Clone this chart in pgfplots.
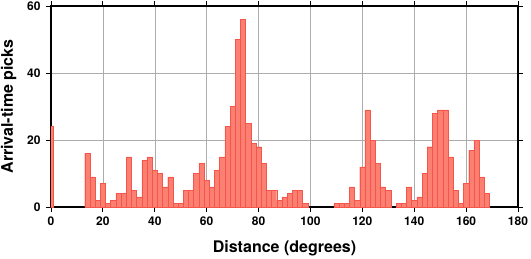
\documentclass[border=0pt]{standalone}
\usepackage{pgfplots}
\pgfplotsset{compat=1.18}
\usepackage{fontspec}
\setmainfont{TeX Gyre Heros}
\definecolor{barfill}{RGB}{252,128,114}
\definecolor{baredge}{RGB}{245,85,75}
\begin{document}
\begin{tikzpicture}
\begin{axis}[
  name=main,
  at={(0pt,0pt)}, anchor=origin,
  scale only axis,
  width=467pt, height=201pt,
  xmin=0, xmax=180, ymin=0, ymax=60,
  xtick={0,20,...,180}, ytick={0,20,40,60},
  tick pos=both, tick align=outside,
  major tick length=5pt,
  tick style={black, line width=0.8pt},
  axis line style={black, line width=1.6pt},
  grid=major,
  major grid style={gray!65, line width=0.5pt},
  /pgf/number format/assume math mode=true,
  ticklabel style={font=\fontsize{12}{14}\selectfont\bfseries},
  xticklabel style={yshift=-1pt},
  yticklabel style={xshift=-2pt},
  xlabel={Distance (degrees)},
  ylabel={Arrival-time picks},
  every axis x label/.style={at={(axis description cs:0.5,0)}, anchor=base, yshift=-45pt,
     font=\fontsize{16}{18}\selectfont\bfseries},
  every axis y label/.style={at={(axis description cs:-0.0814,0.5)}, rotate=90, anchor=base,
     font=\fontsize{16}{18}\selectfont\bfseries},
]
\addplot[ybar, bar width=2, fill=barfill, draw=baredge, line width=0.4pt] coordinates {
(0,24) (14,16) (16,9) (18,2) (20,7) (22,1) (24,2) (26,4) (28,4) (30,15)
(32,5) (34,3) (36,14) (38,15) (40,11) (42,10) (44,6) (46,9) (48,1) (50,1)
(52,5) (54,5) (56,10) (58,13) (60,8) (62,6) (64,11) (66,15) (68,24) (70,30)
(72,50) (74,56) (76,25) (78,19) (80,18) (82,13) (84,5) (86,5) (88,2) (90,3)
(92,4) (94,5) (96,5) (98,1) (110,1) (112,1) (114,1) (116,6) (118,2) (120,12)
(122,29) (124,20) (126,13) (128,6) (130,5) (134,1) (136,1) (138,6) (140,2)
(142,3) (144,10) (146,18) (148,28) (150,29) (152,29) (154,15) (156,5) (158,1)
(160,7) (162,17) (164,20) (166,9) (168,4)
};
\end{axis}
\pgfresetboundingbox
\path (-51pt,-51pt) rectangle (480pt,207pt);
\end{tikzpicture}
\end{document}
